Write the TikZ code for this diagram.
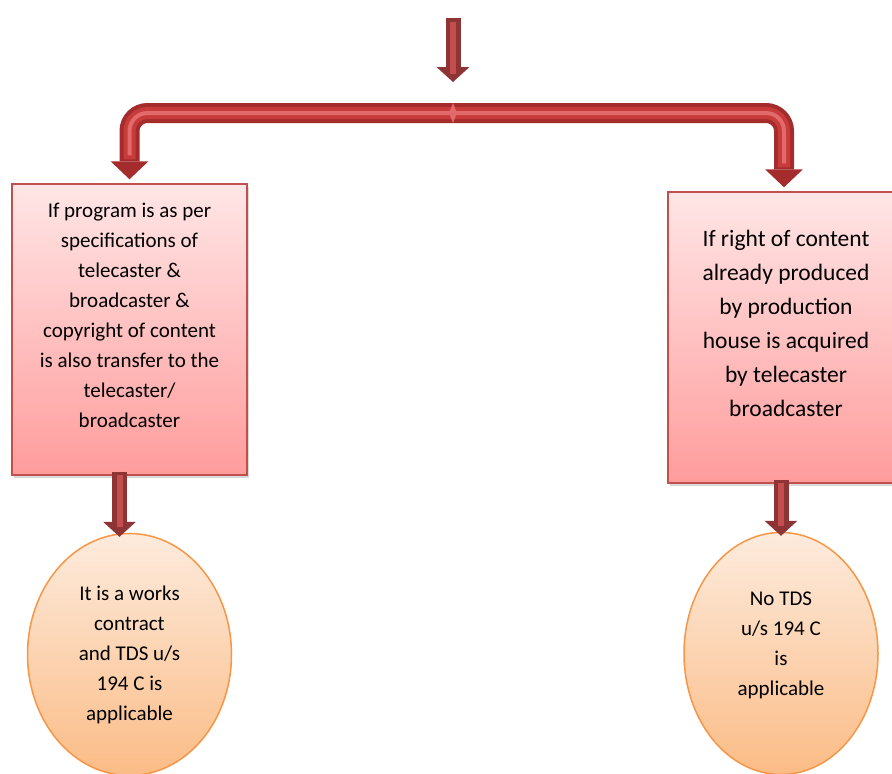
\documentclass[tikz,border=0pt]{standalone}
\usepackage{fontspec}
\setmainfont{Carlito}
\usepackage{xcolor}
\usetikzlibrary{arrows.meta,shapes.geometric,shadows,positioning}

\definecolor{boxedge}{HTML}{C0504D}
\definecolor{boxtop}{HTML}{FFE6E6}
\definecolor{boxbot}{HTML}{FF9C9C}
\definecolor{ovaledge}{HTML}{F79646}
\definecolor{ovaltop}{HTML}{FDEBDD}
\definecolor{ovalbot}{HTML}{FBBC86}
\definecolor{arrdark}{HTML}{8E3434}
\definecolor{arrlight}{HTML}{C44D4D}
\definecolor{pipedark}{HTML}{A52C2C}
\definecolor{pipemid}{HTML}{C73B3B}
\definecolor{pipelight}{HTML}{E36A6A}

\tikzset{
  box/.style={draw=boxedge, line width=1.5pt, top color=boxtop, bottom color=boxbot, inner sep=0pt,
    drop shadow={shadow xshift=2pt, shadow yshift=-3pt, opacity=0.3}},
  oval/.style={ellipse, draw=ovaledge, line width=1.5pt, top color=ovaltop, bottom color=ovalbot,
    minimum width=204pt, minimum height=242pt, inner sep=0pt, align=center, font=\fontsize{21}{30}\selectfont},
  note/.style={align=center, inner sep=0pt},
  down/.style={draw=arrdark, line width=15pt, -{Triangle[width=33pt,length=15pt,line width=0pt]}},
  downin/.style={draw=arrlight, line width=6pt},
  pipe/.style={draw=pipedark, line width=20pt, rounded corners=18pt,
    {Triangle[width=38pt,length=18pt,line width=0pt]}-{Triangle[width=38pt,length=18pt,line width=0pt]}},
  pipein/.style={line width=#1, rounded corners=18pt}
}

\begin{document}
\begin{tikzpicture}[x=1pt, y=-1pt]
  \useasboundingbox (0,0) rectangle (892,774);
  % boxes and results
  \node[box, minimum width=235pt, minimum height=291pt] (box1) at (129.5,329.5) {};
  \node[box, minimum width=232pt, minimum height=291pt] (box2) at (784,337.5) {};
  \node[oval, below=57pt of box1] (res1) {It is a works\\contract\\and TDS u/s\\194 C is\\applicable};
  \node[oval, minimum width=194pt, below=48pt of box2, xshift=-3pt] (res2) {No TDS\\u/s 194 C\\is\\applicable\\[-11pt]};
  \node[note, font=\fontsize{21}{30}\selectfont] (txt1) at ([yshift=14pt]box1.center)
    {If program is as per\\specifications of\\telecaster \&\\broadcaster \&\\copyright of content\\is also transfer to the\\telecaster/\\broadcaster};
  \node[note, font=\fontsize{23.5}{34}\selectfont] (txt2) at ([xshift=2pt,yshift=14.5pt]box2.center)
    {If right of content\\already produced\\by production\\house is acquired\\by telecaster\\broadcaster};
  % incoming arrow
  \coordinate (src) at (453,18);
  \coordinate (split) at (453,82);
  \coordinate (bar) at (453,113);
  \draw[down] (src) -- (split);
  \draw[downin, shorten <=4pt, shorten >=8pt] (src) -- (split);
  % fork to both boxes
  \draw[pipe, shorten <=4pt, shorten >=4pt] (box1.north) |- (bar) -| (box2.north);
  \draw[pipein=12pt, draw=pipemid, shorten <=24pt, shorten >=24pt] (box1.north) |- (bar) -| (box2.north);
  \draw[pipein=4pt, draw=pipelight, shorten <=28pt, shorten >=28pt] (box1.north) |- (bar) -| (box2.north);
  \fill[pipelight] (449,113) -- (453,103) -- (457,113) -- (453,123) -- cycle;
  % down to results
  \draw[down, shorten <=-4pt, shorten >=-4pt] ([xshift=-10pt]box1.south) -- ([xshift=-10pt]res1.north);
  \draw[downin, shorten <=-1pt, shorten >=6pt] ([xshift=-10pt]box1.south) -- ([xshift=-10pt]res1.north);
  \draw[down, shorten <=-4pt, shorten >=-4pt] (box2.south -| res2.north) -- (res2.north);
  \draw[downin, shorten <=-1pt, shorten >=6pt] (box2.south -| res2.north) -- (res2.north);
\end{tikzpicture}
\end{document}
